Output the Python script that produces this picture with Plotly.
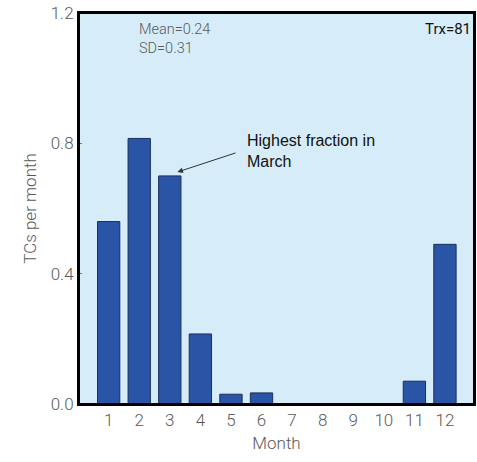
import plotly.graph_objects as go

months = [1, 2, 3, 4, 5, 6, 7, 8, 9, 10, 11, 12]
tcs_per_month = [0.56, 0.815, 0.70, 0.215, 0.03, 0.034, 0.0, 0.0, 0.0, 0.0, 0.07, 0.49]
y_ticks = [0.0, 0.4, 0.8, 1.2]
y_tick_labels = ["0.0", "0.4", "0.8", "1.2"]
mean_text = "Mean=0.24"
sd_text = "SD=0.31"
trx_text = "Trx=81"
note_text = "Highest fraction in<br>March"

FONT = "Roboto, DejaVu Sans, sans-serif"
GRAY = "#5a5a5a"

fig = go.Figure()
fig.add_trace(go.Bar(
    x=months, y=tcs_per_month, width=0.73,
    marker=dict(color="#2a55a6",
                line=dict(color="#1c2f5c", width=[1 if v > 0 else 0 for v in tcs_per_month])),
))

hi = tcs_per_month[2]
fig.add_annotation(x=3.25, y=hi + 0.012, ax=5.2, ay=hi + 0.072,
                   xref="x", yref="y", axref="x", ayref="y",
                   showarrow=True, arrowhead=2, arrowsize=1.1, arrowwidth=1,
                   arrowcolor="#333333", text="")
fig.add_annotation(x=5.45, y=hi + 0.078, xref="x", yref="y", text=note_text,
                   showarrow=False, xanchor="left", yanchor="middle", align="left",
                   font=dict(family="Liberation Sans, Arial, sans-serif", size=16, color="#111111"))
fig.add_annotation(x=0.148, y=0.985, xref="paper", yref="paper", text=mean_text + "<br>" + sd_text,
                   showarrow=False, xanchor="left", yanchor="top", align="left",
                   font=dict(family=FONT, size=14.5, color=GRAY, weight=300))
fig.add_annotation(x=0.997, y=0.959, xref="paper", yref="paper", text=trx_text,
                   showarrow=False, xanchor="right", yanchor="middle", align="right",
                   font=dict(family=FONT, size=15, color="#111111"))

fig.add_shape(type="rect", xref="paper", yref="paper", x0=0, x1=1, y0=0, y1=1,
              line=dict(color="#000000", width=2), fillcolor="rgba(0,0,0,0)", layer="above")

fig.update_layout(
    width=477, height=462,
    margin=dict(l=79, r=3, t=13, b=58),
    paper_bgcolor="white", plot_bgcolor="#d6ecf8",
    showlegend=False,
    font=dict(family=FONT, color=GRAY, size=16),
)
fig.update_xaxes(range=[0.03, 12.95], tickvals=months, ticks="", showgrid=False, zeroline=False,
                 showline=True, linecolor="#000000", linewidth=2, mirror=True, automargin=False,
                 ticklabeloverflow="allow",
                 title=dict(text="Month", font=dict(size=17, color=GRAY, weight=300), standoff=8),
                 tickfont=dict(size=17, color=GRAY, weight=300))
fig.update_yaxes(range=[0, 1.2], tickvals=y_ticks, ticktext=y_tick_labels, ticks="inside", ticklen=3,
                 tickcolor="#777", showgrid=False, zeroline=False,
                 showline=True, linecolor="#000000", linewidth=2, mirror=True, automargin=False,
                 ticklabeloverflow="allow",
                 title=dict(text="TCs per month", font=dict(size=17, color=GRAY, weight=300), standoff=10),
                 tickfont=dict(size=17, color=GRAY, weight=300))

fig.write_html("out.html", config={"displayModeBar": False},
               post_script="document.body.style.margin='0';document.body.style.overflow='hidden';")
